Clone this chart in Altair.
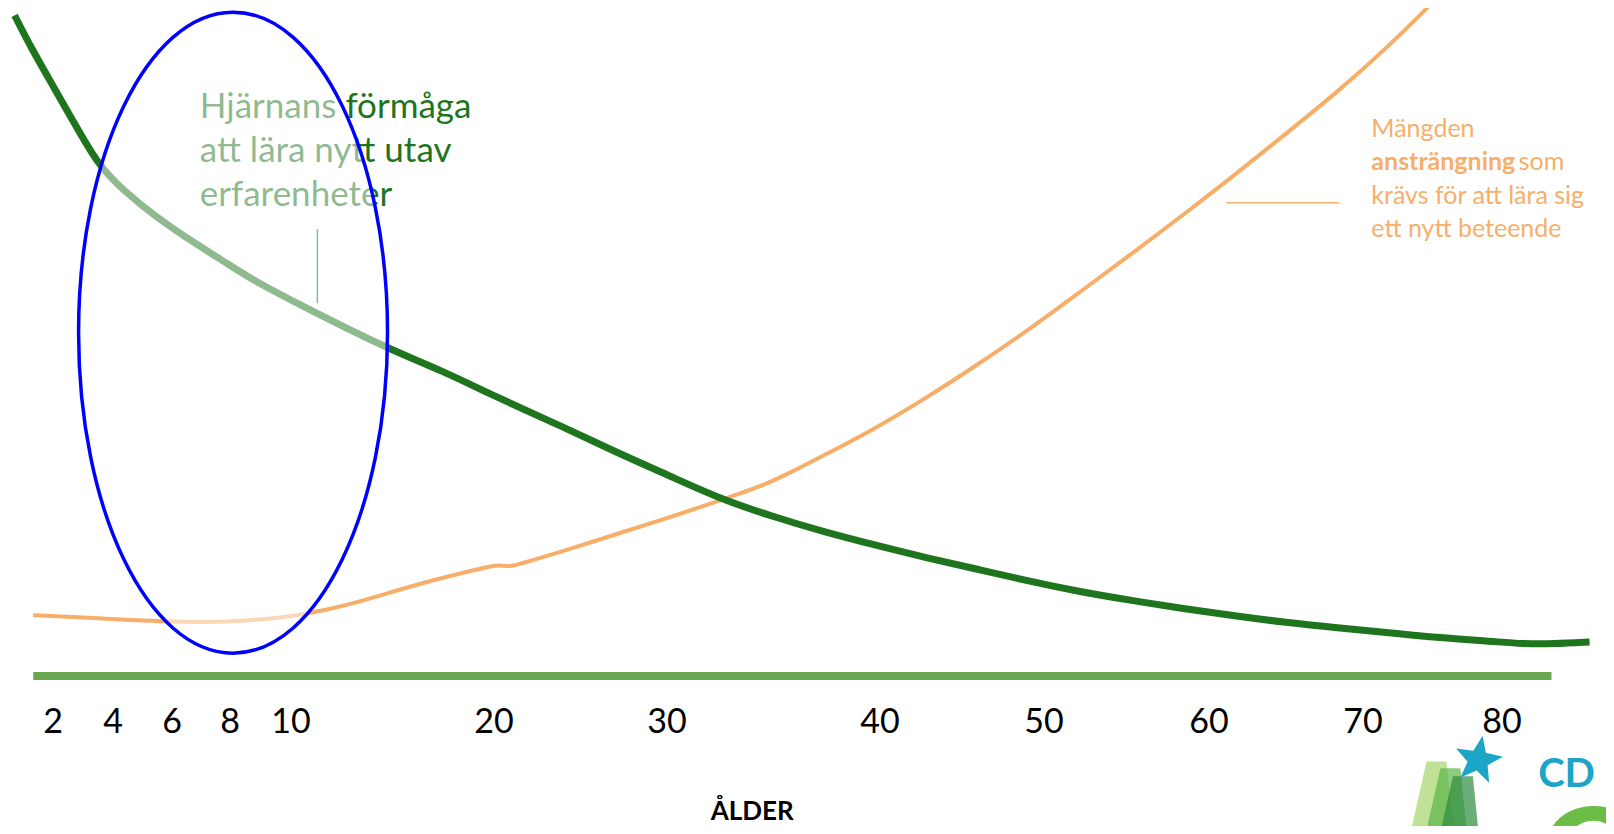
import altair as alt
import pandas as pd

# ---------------- data ----------------
tick_ages = [2, 4, 6, 8, 10, 20, 30, 40, 50, 60, 70, 80]
tick_px = [45, 105, 164, 222, 283, 486, 659, 872, 1036, 1201, 1355, 1494]

green_age = [0.72, 1.24, 1.93, 2.62, 3.48, 4.35, 5.40, 6.81, 8.0, 8.88, 11.26, 14.69,
             17.46, 20.0, 23.57, 27.14, 30.1, 32.51, 34.93, 37.34, 39.76, 42.81, 45.94,
             49.06, 52.19, 55.31, 58.44, 61.67, 65.0, 68.33, 71.85, 75.56, 79.26, 81.48,
             83.7, 86.3]
green_level = [98.9, 94.3, 88.9, 83.5, 76.6, 72.7, 68.9, 64.7, 61.5, 58.9, 54.3, 49.1,
               45.7, 41.9, 37.8, 33.4, 30.0, 26.5, 23.9, 21.6, 19.6, 17.7, 16.0,
               14.2, 12.6, 11.3, 10.1, 9.0, 8.0, 7.2, 6.5, 5.7, 5.2, 4.8,
               4.8, 5.1]

orange_age = [1.34, 2.97, 4.70, 5.75, 7.16, 8.0, 9.22, 10.36, 11.88, 13.40, 15.94, 17.97,
              19.49, 20.30, 20.89, 21.79, 24.76, 27.14, 30.1, 32.51, 34.44, 35.89, 37.34,
              39.76, 42.81, 45.94, 49.06, 52.19, 55.31, 59.06, 61.67, 65.0, 68.33, 71.85,
              74.44, 75.2, 76.0]
orange_level = [9.1, 8.8, 8.3, 8.2, 8.0, 8.2, 8.5, 9.1, 10.0, 11.1, 13.5, 15.1,
                16.2, 16.7, 16.3, 17.0, 19.3, 21.3, 23.7, 26.3, 28.4, 30.6, 33.0,
                37.0, 41.6, 46.6, 51.8, 57.5, 63.2, 70.2, 75.0, 81.2, 87.4, 94.3,
                99.6, 101.3, 103.0]

green_text = ["Hjärnans förmåga", "att lära nytt utav", "erfarenheter"]
orange_text = ["Mängden", "ansträngning", "som", "krävs för att lära sig", "ett nytt beteende"]

# logo pieces (bottom-right corner)
logo_kind = ["lime", "green", "dark", "star", "bigS"]
logo_age = [75.0, 76.0, 76.9, 78.3, 86.3]
logo_level = [-18.8, -19.8, -21.0, -12.6, -27.1]
logo_colors = ["#A5D46A", "#5DB548", "#2E8B3E", "#1BA5C6", "#6BBE45"]
logo_text = ["CD"]
logo_text_age = [82.6]
logo_text_level = [-16.6]

# ---------------- style ----------------
DARK_GREEN = "#1E751E"
LIGHT_GREEN = "#6AA84F"
ORANGE = "#F7AE68"
BLUE = "#0000FF"
TEAL = "#1BA5C6"
FONT = "Lato"

Y_MIN = -22.455
xscale = alt.Scale(domain=tick_ages, range=tick_px, nice=False, zero=False)
yscale = alt.Scale(domain=[Y_MIN, 100], nice=False, zero=False)


def X(f="age"):
    return alt.X(f"{f}:Q", scale=xscale, axis=None)


def Y(f="level"):
    return alt.Y(f"{f}:Q", scale=yscale, axis=None)


green_df = pd.DataFrame({"age": green_age, "level": green_level})
orange_df = pd.DataFrame({"age": orange_age, "level": orange_level})
baseline_df = pd.DataFrame({"age": [1.34], "age2": [83.56], "level": [0.0]})
gtick_df = pd.DataFrame({"age": [11.3], "level": [66.9], "level2": [55.8]})
oline_df = pd.DataFrame({"age": [61.13], "age2": [68.47], "level": [70.86]})
gtext_df = pd.DataFrame({"age": [6.96] * 3, "level": [83.6, 77.0, 70.3], "text": green_text})
otext_norm_df = pd.DataFrame({
    "age": [70.6, 81.2, 70.6, 70.6],
    "level": [80.75, 75.75, 70.73, 65.73],
    "text": [orange_text[0], orange_text[2], orange_text[3], orange_text[4]],
})
otext_bold_df = pd.DataFrame({"age": [70.6], "level": [75.75], "text": [orange_text[1]]})
ellipse_df = pd.DataFrame({"age": [8.1], "level": [51.4]})
ticks_df = pd.DataFrame({"age": tick_ages, "level": [-8.52] * len(tick_ages),
                         "text": [str(t) for t in tick_ages]})
title_df = pd.DataFrame({"age": [34.0], "level": [-21.5], "text": ["ÅLDER"]})
logo_df = pd.DataFrame({"age": logo_age, "level": logo_level, "kind": logo_kind})
logo_text_df = pd.DataFrame({"age": logo_text_age, "level": logo_text_level, "text": logo_text})

ELLIPSE_PATH = "M 0 -1 A 0.482 1 0 1 1 0 1 A 0.482 1 0 1 1 0 -1 Z"
STAR_PATH = ("M 0.17 -0.98 L 0.3 -0.3 L 0.98 -0.14 L 0.37 0.2 L 0.43 0.9 L -0.07 0.41 "
             "L -0.72 0.69 L -0.43 0.06 L -0.89 -0.47 L -0.2 -0.38 Z")
PARA_PATH = "M -0.15 -1 L 0.35 -1 L 0.55 1 L -0.6 1 Z"
S_PATH = ("M -0.85 -0.2 C -0.85 -1.25 0.85 -1.25 0.85 -0.45 L 0.45 -0.45 "
          "C 0.45 -0.85 -0.45 -0.85 -0.45 -0.2 Z")

logo_color = alt.Color("kind:N", scale=alt.Scale(domain=logo_kind, range=logo_colors),
                       legend=None)

baseline = alt.Chart(baseline_df).mark_rule(color=LIGHT_GREEN, strokeWidth=8).encode(
    x=X(), x2="age2:Q", y=Y())

orange_line = alt.Chart(orange_df).mark_line(
    color=ORANGE, strokeWidth=4, interpolate="basis", clip=True
).encode(x=X(), y=Y(), order="age:Q")

green_line = alt.Chart(green_df).mark_line(
    color=DARK_GREEN, strokeWidth=7, interpolate="basis", clip=True
).encode(x=X(), y=Y(), order="age:Q")

gtick = alt.Chart(gtick_df).mark_rule(color=DARK_GREEN, strokeWidth=1.5).encode(
    x=X(), y=Y(), y2="level2:Q")

gtext = alt.Chart(gtext_df).mark_text(
    align="left", baseline="alphabetic", font=FONT, fontSize=35, color=DARK_GREEN
).encode(x=X(), y=Y(), text="text:N")

ellipse = alt.Chart(ellipse_df).mark_point(
    shape=ELLIPSE_PATH, size=641 * 641, filled=True, fill="white", fillOpacity=0.5,
    stroke=BLUE, strokeWidth=3.5, opacity=1
).encode(x=X(), y=Y())

oline = alt.Chart(oline_df).mark_rule(color=ORANGE, strokeWidth=1.5).encode(
    x=X(), x2="age2:Q", y=Y())

otext = alt.Chart(otext_norm_df).mark_text(
    align="left", baseline="alphabetic", font=FONT, fontSize=25, color=ORANGE
).encode(x=X(), y=Y(), text="text:N")

otext_b = alt.Chart(otext_bold_df).mark_text(
    align="left", baseline="alphabetic", font=FONT, fontSize=25, fontWeight="bold", color=ORANGE
).encode(x=X(), y=Y(), text="text:N")

tick_labels = alt.Chart(ticks_df).mark_text(
    align="center", baseline="alphabetic", font=FONT, fontSize=34, color="black"
).encode(x=X(), y=Y(), text="text:N")

title = alt.Chart(title_df).mark_text(
    align="center", baseline="alphabetic", font=FONT, fontSize=26, fontWeight="bold", color="black"
).encode(x=X(), y=Y(), text="text:N")

logo_shapes = alt.Chart(logo_df).transform_filter(
    alt.FieldOneOfPredicate(field="kind", oneOf=["lime", "green", "dark"])
).mark_point(shape=PARA_PATH, size=6400, filled=True, opacity=0.7, clip=True).encode(
    x=X(), y=Y(), color=logo_color)

star = alt.Chart(logo_df).transform_filter(
    alt.datum.kind == "star"
).mark_point(shape=STAR_PATH, size=2500, filled=True, opacity=1).encode(
    x=X(), y=Y(), color=logo_color)

big_s = alt.Chart(logo_df).transform_filter(
    alt.datum.kind == "bigS"
).mark_point(shape=S_PATH, size=10000, filled=True, opacity=1, clip=True).encode(
    x=X(), y=Y(), color=logo_color)

logo_cd = alt.Chart(logo_text_df).mark_text(
    align="left", baseline="alphabetic", font=FONT, fontWeight="bold", fontSize=40, color=TEAL
).encode(x=X(), y=Y(), text="text:N")

chart = alt.layer(
    baseline, orange_line, green_line, gtick, gtext, ellipse, oline, otext, otext_b,
    tick_labels, title, logo_shapes, star, big_s, logo_cd
).properties(
    width=1598, height=818, padding=0,
    autosize=alt.AutoSizeParams(type="none")
).configure_view(stroke=None)

chart.save("out.html", embed_options={"renderer": "svg", "actions": False})
